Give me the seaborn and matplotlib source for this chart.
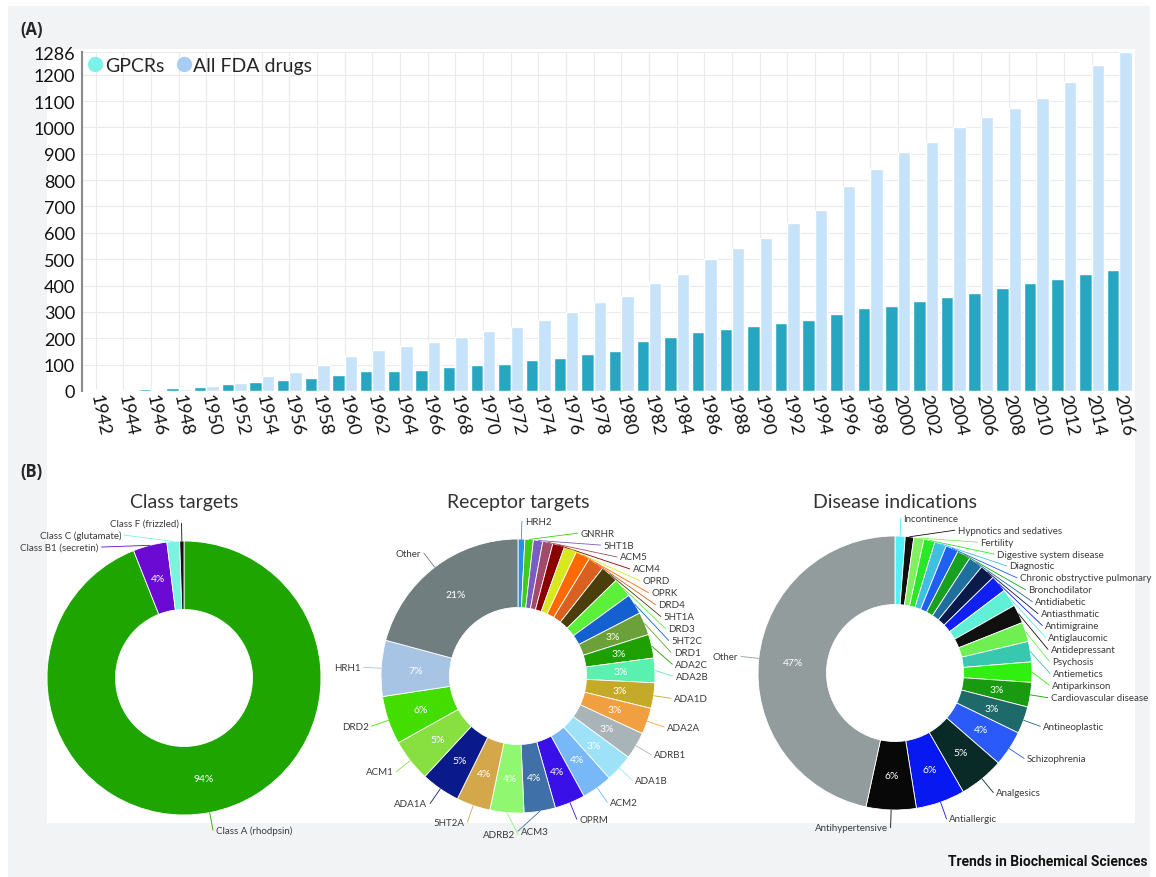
import numpy as np
import pandas as pd
import seaborn as sns
import matplotlib.pyplot as plt
from matplotlib.patches import Rectangle
from matplotlib.lines import Line2D

W, H = 1156, 878

# (A) approvals per year
years = ['1942', '1944', '1946', '1948', '1950', '1952', '1954', '1956', '1958', '1960',
         '1962', '1964', '1966', '1968', '1970', '1972', '1974', '1976', '1978', '1980',
         '1982', '1984', '1986', '1988', '1990', '1992', '1994', '1996', '1998', '2000',
         '2002', '2004', '2006', '2008', '2010', '2012', '2014', '2016']
gpcr = [4, 4, 8, 13, 16, 25, 35, 41, 51, 62, 75, 77, 81, 92, 97, 103, 116, 127,
        142, 152, 191, 203, 222, 237, 248, 258, 268, 291, 314, 324, 340, 356, 372,
        390, 409, 423, 442, 459]
fda = [1, 1, 4, 9, 19, 30, 57, 72, 99, 133, 154, 171, 187, 206, 227, 243, 268, 300,
       338, 362, 408, 442, 499, 542, 582, 639, 685, 778, 843, 906, 944, 1001, 1039,
       1075, 1111, 1173, 1235, 1286]
series_names = ['GPCRs', 'All FDA drugs']

# (B) donuts, clockwise from 12 o'clock
class_labels = ['Class A (rhodpsin)', 'Class B1 (secretin)', 'Class C (glutamate)',
                'Class F (frizzled)']
class_values = [94.0, 4.0, 1.5, 0.5]
class_colors = ['#1FA500', '#6A0AD2', '#7CF2E0', '#111111']

receptor_labels = ['HRH2', 'GNRHR', '5HT1B', 'ACM5', 'ACM4', 'OPRD', 'OPRK', 'DRD4',
                   '5HT1A', 'DRD3', '5HT2C', 'DRD1', 'ADA2C', 'ADA2B', 'ADA1D', 'ADA2A',
                   'ADRB1', 'ADA1B', 'ACM2', 'OPRM', 'ACM3', 'ADRB2', '5HT2A', 'ADA1A',
                   'ACM1', 'DRD2', 'HRH1', 'Other']
receptor_values = [0.8, 1.0, 1.1, 1.2, 1.4, 1.5, 1.7, 1.9, 2.1, 2.3, 2.4, 2.7, 2.8, 2.9,
                   3.0, 3.1, 3.2, 3.3, 3.6, 3.6, 3.7, 4.0, 4.0, 4.6, 5.0, 5.7, 6.6, 20.8]
receptor_colors = ['#2A8FE8', '#3FCC1A', '#7A5CC2', '#A24A6A', '#8B0000', '#D8E81E',
                   '#FF6A00', '#D9601E', '#4A3F0A', '#5CF03A', '#1560D0', '#6BA03A',
                   '#1EA000', '#5AF0B0', '#C4AA28', '#F0A040', '#A8B4B8', '#9EE2F8',
                   '#78B8F8', '#3A10E8', '#4070A8', '#90F870', '#D4A84A', '#0A1A8A',
                   '#88E040', '#44DD00', '#A8C4E4', '#707E80']

disease_labels = ['Incontinence', 'Hypnotics and sedatives', 'Fertility',
                  'Digestive system disease', 'Diagnostic', 'Chronic obstryctive pulmonary',
                  'Bronchodilator', 'Antidiabetic', 'Antiasthmatic', 'Antimigraine',
                  'Antiglaucomic', 'Antidepressant', 'Psychosis', 'Antiemetics',
                  'Antiparkinson', 'Cardiovascular disease', 'Antineoplastic',
                  'Schizophrenia', 'Analgesics', 'Antiallergic', 'Antihypertensive', 'Other']
disease_values = [1.2, 1.0, 1.2, 1.3, 1.4, 1.5, 1.6, 1.7, 1.8, 2.0, 2.1, 2.2, 2.3, 2.4,
                  2.4, 2.9, 3.2, 4.2, 5.3, 5.8, 5.9, 46.6]
disease_colors = ['#4FF0F8', '#101010', '#80F060', '#28E828', '#40C0E0', '#2060F0',
                  '#18A020', '#1E6E9E', '#0A1A4A', '#1020F0', '#60F0D8', '#101010',
                  '#70F050', '#38C8B0', '#30F010', '#1A9A10', '#1E6A6A', '#2A5AF8',
                  '#0A2A28', '#0818F0', '#080808', '#939C9C']


def fig_box(left, top, right, bottom):
    return [left / W, 1 - bottom / H, (right - left) / W, (bottom - top) / H]


def draw_donut(fig, cx, cy, title, labels, values, colors):
    radius_px = 137
    span = 1.9
    half = span * radius_px
    ax = fig.add_axes(fig_box(cx - half, cy - half, cx + half, cy + half))
    wedges, _ = ax.pie(values, colors=colors, startangle=90, counterclock=False,
                       radius=1, wedgeprops=dict(width=0.5, edgecolor='white', linewidth=0.6))
    ax.set_xlim(-span, span)
    ax.set_ylim(-span, span)
    ax.set_aspect('equal')
    ax.axis('off')
    ax.patch.set_alpha(0)

    total = sum(values)
    right, left = [], []
    for w, lab, val, col in zip(wedges, labels, values, colors):
        mid = np.deg2rad((w.theta1 + w.theta2) / 2)
        pct = 100 * val / total
        if pct >= 2.6:
            ax.text(0.75 * np.cos(mid), 0.75 * np.sin(mid), f'{pct:.0f}%', color='white',
                    fontsize=7.5, ha='center', va='center')
        (right if np.cos(mid) >= 0 else left).append((mid, lab, col))

    # outside labels, stacked downwards on each side
    r, step = 1.13, 0.087
    for group, side in ((right, 1), (left[::-1], -1)):
        prev = None
        for mid, lab, col in group:
            x, y = r * np.cos(mid), r * np.sin(mid)
            if prev is not None and y > prev - step:
                y = prev - step
                x = side * np.sqrt(max(r ** 2 - y ** 2, 0))
            prev = y
            ax.plot([np.cos(mid), x], [np.sin(mid), y], color=col, lw=0.6, clip_on=False)
            ax.text(x + side * 0.02, y, lab, ha='left' if side > 0 else 'right',
                    va='center', fontsize=7, color='#3a3a3a', clip_on=False)

    fig.text(cx / W, 1 - 503 / H, title, ha='center', va='center', fontsize=14,
             color='#333333')


sns.set_theme(style='whitegrid')
plt.rcParams['font.family'] = ['Lato', 'DejaVu Sans']

fig = plt.figure(figsize=(W / 100, H / 100), dpi=100)
fig.patch.set_facecolor('white')
fig.patches.append(Rectangle((8 / W, 1 - 878 / H), 1142 / W, 871 / H,
                             transform=fig.transFigure, facecolor='#F2F3F4',
                             edgecolor='none', zorder=-2))
fig.patches.append(Rectangle((47 / W, 1 - 824 / H), 1088 / W, 774 / H,
                             transform=fig.transFigure, facecolor='white',
                             edgecolor='none', zorder=-1))

# ---- (A) bar chart
df = pd.DataFrame({
    'year': years * 2,
    'count': gpcr + fda,
    'series': [series_names[0]] * len(years) + [series_names[1]] * len(years),
})

ax = fig.add_axes(fig_box(82, 53, 1133, 392))
sns.barplot(data=df, x='year', y='count', hue='series', hue_order=series_names,
            palette=['#27A6C2', '#C6E3FA'], saturation=1, width=0.9, gap=0,
            legend=False, ax=ax)
ax.set_facecolor('white')
ax.set_ylim(0, 1286)
ax.set_xlim(-0.5, len(years) - 0.5)
ax.set_yticks(list(range(0, 1300, 100)) + [1286])
ax.set_xlabel('')
ax.set_ylabel('')
ax.grid(True, color='#EAEAEA', lw=0.8)
ax.set_axisbelow(True)
for side in ['top', 'right', 'bottom']:
    ax.spines[side].set_visible(False)
ax.spines['left'].set_color('#8A8A8A')
ax.spines['left'].set_linewidth(1.5)
ax.tick_params(axis='y', length=0, pad=5, labelsize=13, labelcolor='#111111')
ax.tick_params(axis='x', length=0, pad=2, labelsize=13, labelcolor='#111111')
for lbl in ax.get_xticklabels():
    lbl.set_rotation(-78)
    lbl.set_rotation_mode('anchor')
    lbl.set_ha('left')
    lbl.set_va('center')

handles = [Line2D([], [], ls='none', marker='o', markersize=11, markeredgewidth=0,
                  markerfacecolor=c) for c in ['#7DF2EA', '#A8CDF3']]
ax.legend(handles, series_names, loc='upper left', bbox_to_anchor=(-0.006, 1.02), ncol=2,
          frameon=False, fontsize=14, handlelength=0.8, handletextpad=0.1,
          columnspacing=0.6, borderaxespad=0.2)

fig.text(20 / W, 1 - 30 / H, '(A)', fontsize=12, fontweight='bold', va='center',
         family=['Open Sans', 'DejaVu Sans'])
fig.text(20 / W, 1 - 472 / H, '(B)', fontsize=12, fontweight='bold', va='center',
         family=['Open Sans', 'DejaVu Sans'])

# ---- (B) donuts
draw_donut(fig, 184, 679, 'Class targets', class_labels, class_values, class_colors)
draw_donut(fig, 518, 677, 'Receptor targets', receptor_labels, receptor_values,
           receptor_colors)
draw_donut(fig, 895, 674, 'Disease indications', disease_labels, disease_values,
           disease_colors)

fig.text(1147 / W, 1 - 862 / H, 'Trends in Biochemical Sciences', ha='right',
         va='center', fontsize=10, fontweight='bold', family=['Roboto', 'DejaVu Sans'],
         color='#111111')

fig.savefig('out.png', dpi=100)
